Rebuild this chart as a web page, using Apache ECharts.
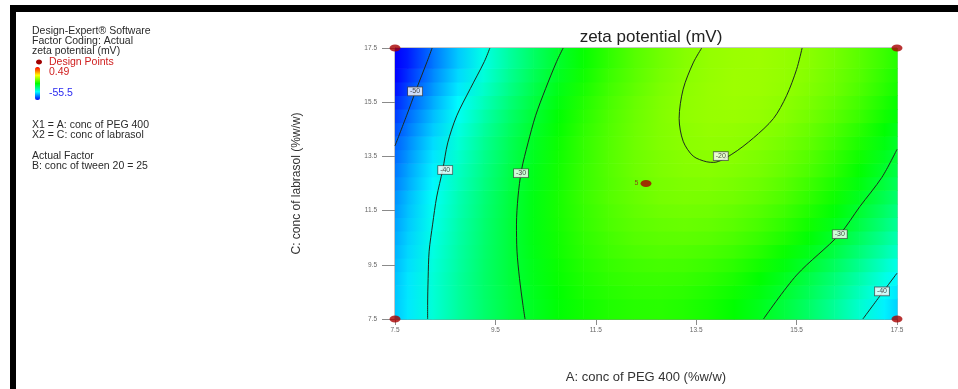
<!DOCTYPE html>
<html>
<head>
<meta charset="utf-8">
<title>zeta potential (mV)</title>
<script src="https://cdn.jsdelivr.net/npm/echarts@6/dist/echarts.min.js"></script>
<style>
  html, body { margin: 0; padding: 0; background: #fff; }
  #chart { width: 958px; height: 389px; }
</style>
</head>
<body>
<div id="chart"></div>
<script>
// factor axis ticks (A: PEG 400 on x, C: labrasol on y)
const xTicks = [7.5, 9.5, 11.5, 13.5, 15.5, 17.5];
const yTicks = [7.5, 9.5, 11.5, 13.5, 15.5, 17.5];

// response surface (columns = A, rows = C)
const xNodes = [7.5, 7.75, 8.25, 8.75, 9.25, 9.75, 10.25, 10.75, 11.25, 11.75, 12.25,
                12.75, 13.25, 13.75, 14.25, 14.75, 15.25, 15.75, 16.25, 16.75, 17.25, 17.5];
const yRows = [8, 8.5, 9, 9.5, 10, 10.5, 11, 11.5, 12, 12.5, 13, 13.5, 14, 14.5, 15, 15.5, 16, 16.5, 17];
const zRows = [
  [-44.6, -42.7, -39.3, -36.2, -33.5, -31.2, -29.3, -27.7, -26.6, -25.8, -25.4, -25.3, -25.7, -26.4, -27.5, -29.0, -30.9, -33.1, -35.8, -38.8, -42.2, -44.0],
  [-44.7, -42.8, -39.3, -36.2, -33.4, -31.1, -29.1, -27.5, -26.2, -25.4, -24.9, -24.8, -25.1, -25.8, -26.8, -28.3, -30.1, -32.2, -34.8, -37.8, -41.1, -42.9],
  [-44.9, -42.9, -39.3, -36.2, -33.3, -30.9, -28.9, -27.2, -25.9, -25.0, -24.5, -24.3, -24.5, -25.1, -26.1, -27.5, -29.2, -31.4, -33.9, -36.8, -40.0, -41.8],
  [-45.3, -43.3, -39.6, -36.4, -33.4, -30.9, -28.8, -27.0, -25.6, -24.6, -24.0, -23.7, -23.8, -24.3, -25.2, -26.5, -28.2, -30.2, -32.6, -35.4, -38.6, -40.3],
  [-45.7, -43.7, -39.9, -36.5, -33.5, -30.9, -28.6, -26.7, -25.2, -24.1, -23.4, -23.0, -23.1, -23.5, -24.2, -25.4, -27.0, -28.9, -31.2, -33.9, -36.9, -38.6],
  [-46.1, -44.1, -40.2, -36.7, -33.6, -30.9, -28.5, -26.6, -25.0, -23.8, -22.9, -22.5, -22.4, -22.7, -23.4, -24.5, -25.9, -27.8, -30.0, -32.6, -35.6, -37.2],
  [-46.6, -44.5, -40.5, -36.9, -33.7, -30.9, -28.5, -26.4, -24.7, -23.4, -22.5, -22.0, -21.8, -22.0, -22.6, -23.6, -25.0, -26.7, -28.8, -31.3, -34.2, -35.8],
  [-47.1, -44.9, -40.8, -37.2, -33.9, -31.0, -28.5, -26.3, -24.6, -23.2, -22.2, -21.5, -21.3, -21.4, -22.0, -22.9, -24.1, -25.8, -27.8, -30.2, -33.0, -34.6],
  [-47.5, -45.3, -41.2, -37.4, -34.1, -31.1, -28.5, -26.3, -24.4, -22.9, -21.9, -21.1, -20.8, -20.9, -21.3, -22.1, -23.3, -24.9, -26.8, -29.2, -31.9, -33.4],
  [-48.3, -46.1, -41.9, -38.0, -34.6, -31.5, -28.8, -26.5, -24.5, -23.0, -21.8, -21.0, -20.6, -20.5, -20.9, -21.6, -22.7, -24.2, -26.0, -28.3, -30.9, -32.4],
  [-48.9, -46.6, -42.3, -38.4, -34.9, -31.7, -28.9, -26.5, -24.5, -22.9, -21.6, -20.7, -20.2, -20.1, -20.4, -21.0, -22.0, -23.4, -25.2, -27.4, -29.9, -31.3],
  [-49.6, -47.3, -42.9, -38.9, -35.3, -32.1, -29.2, -26.7, -24.7, -22.9, -21.6, -20.7, -20.1, -19.9, -20.1, -20.7, -21.6, -22.9, -24.7, -26.7, -29.2, -30.6],
  [-50.2, -47.9, -43.4, -39.4, -35.7, -32.4, -29.4, -26.9, -24.7, -23.0, -21.5, -20.5, -19.9, -19.6, -19.7, -20.2, -21.1, -22.3, -24.0, -26.0, -28.4, -29.7],
  [-51.2, -48.8, -44.3, -40.1, -36.3, -32.9, -29.9, -27.3, -25.0, -23.1, -21.6, -20.5, -19.8, -19.4, -19.5, -19.9, -20.6, -21.8, -23.4, -25.3, -27.6, -28.9],
  [-52.2, -49.7, -45.1, -40.9, -37.0, -33.5, -30.4, -27.6, -25.3, -23.3, -21.7, -20.5, -19.6, -19.2, -19.1, -19.4, -20.1, -21.2, -22.6, -24.4, -26.6, -27.9],
  [-53.3, -50.8, -46.1, -41.7, -37.8, -34.2, -31.0, -28.2, -25.7, -23.6, -21.9, -20.6, -19.7, -19.2, -19.0, -19.2, -19.8, -20.8, -22.1, -23.9, -26.0, -27.2],
  [-54.6, -52.0, -47.2, -42.7, -38.7, -35.0, -31.7, -28.7, -26.2, -24.0, -22.3, -20.8, -19.8, -19.2, -18.9, -19.0, -19.5, -20.4, -21.6, -23.3, -25.3, -26.4],
  [-55.6, -53.0, -48.1, -43.6, -39.5, -35.7, -32.3, -29.3, -26.7, -24.4, -22.6, -21.1, -20.0, -19.3, -18.9, -19.0, -19.4, -20.2, -21.4, -22.9, -24.9, -26.0],
  [-56.7, -54.0, -49.1, -44.5, -40.2, -36.4, -33.0, -29.9, -27.2, -24.9, -22.9, -21.4, -20.2, -19.4, -19.0, -18.9, -19.3, -20.0, -21.1, -22.6, -24.4, -25.5]
];
const zMin = -55.5;
const zMax = 0.49;

// contour lines: [A, C]
const contour50 = [[7.5, 13.89], [7.73, 15], [7.93, 16], [8.14, 17], [8.24, 17.5]];
const contour40L = [[9.39, 17.5], [9.28, 17], [9.0, 16], [8.73, 15], [8.55, 14], [8.45, 13], [8.33, 12],
                    [8.25, 11], [8.18, 10], [8.16, 9], [8.15, 8], [8.15, 7.5]];
const contour30L = [[10.85, 17.5], [10.72, 17], [10.5, 16], [10.3, 15], [10.15, 14], [10.02, 13], [9.95, 12],
                    [9.92, 11], [9.93, 10], [9.98, 9], [10.05, 8], [10.09, 7.5]];
const contour20 = [[13.61, 17.5], [13.44, 16.95], [13.24, 15.98], [13.16, 14.9], [13.24, 14.06], [13.44, 13.51],
                   [13.71, 13.3], [13.85, 13.28], [14.21, 13.58], [14.64, 14.18], [15.04, 14.9], [15.3, 15.74],
                   [15.5, 16.71], [15.61, 17.5]];
const contour30R = [[14.84, 7.5], [15.5, 9.12], [16.36, 10.63], [16.76, 11.65], [17.2, 12.73], [17.5, 13.76]];
const contour40R = [[16.82, 7.5], [17.2, 8.45], [17.5, 9.19]];
const contourLabels = [[7.9, 15.9, '-50'], [8.5, 13.0, '-40'], [10.01, 12.88, '-30'], [13.99, 13.51, '-20'],
                       [16.36, 10.63, '-30'], [17.2, 8.52, '-40']];

// design points
const designPoints = [[7.5, 7.5], [7.5, 17.5], [17.5, 7.5], [17.5, 17.5], [12.5, 12.5]];
const centerReplicates = 5;

const rowH = 0.5;
const nCols = xNodes.length;
const nRows = yRows.length;

const chart = echarts.init(document.getElementById('chart'));

const surfaceData = [];
yRows.forEach((y, r) => {
  xNodes.forEach((x, c) => surfaceData.push([x, y, zRows[r][c]]));
});

// each strip runs from one node to the next in its row, shaded between their colours
const renderSurface = (params, api) => {
  const i = params.dataIndexInside;
  if (i % nCols === nCols - 1) return null;
  const row = Math.floor(i / nCols);
  const x = api.value(0);
  const y = api.value(1);
  const yTop = row === nRows - 1 ? yTicks[yTicks.length - 1] : y + rowH / 2;
  const yBottom = row === 0 ? yTicks[0] : y - rowH / 2;
  const top = api.coord([x, yTop])[1];
  const bottom = api.coord([x, yBottom])[1];
  const px = api.coord([x, y])[0];
  const nx = api.coord([api.value(0, i + 1), y])[0];
  return {
    type: 'rect',
    shape: { x: px, y: top, width: nx - px + 0.6, height: bottom - top + 0.6 },
    style: {
      fill: {
        type: 'linear', x: 0, y: 0, x2: 1, y2: 0,
        colorStops: [
          { offset: 0, color: api.visual('color') },
          { offset: 1, color: api.visual('color', i + 1) }
        ]
      }
    }
  };
};

const contourLine = (data) => ({
  type: 'line',
  data: data,
  smooth: 0.3,
  showSymbol: false,
  silent: true,
  clip: true,
  z: 3,
  lineStyle: { color: '#1e2a1e', width: 1 }
});

const txt = (text, x, y, color) => ({
  type: 'text',
  style: {
    text: text, x: x, y: y, verticalAlign: 'middle',
    fill: color || '#2a2a2a',
    font: '10.5px "Liberation Sans", Arial, sans-serif'
  }
});

const option = {
  animation: false,
  backgroundColor: '#fff',
  title: {
    text: 'zeta potential (mV)',
    left: 646,
    top: 24,
    textAlign: 'center',
    textStyle: { fontSize: 17, fontWeight: 'normal', color: '#222', fontFamily: 'Liberation Sans' }
  },
  grid: { left: 395, top: 48, width: 502, height: 277, show: true, borderColor: '#8a8a8a', borderWidth: 1, backgroundColor: 'transparent' },
  xAxis: {
    type: 'value',
    min: xTicks[0],
    max: xTicks[xTicks.length - 1],
    interval: 2,
    name: 'A: conc of PEG 400 (%w/w)',
    nameLocation: 'middle',
    nameGap: 52,
    nameTextStyle: { fontSize: 13, color: '#333', fontFamily: 'Liberation Sans' },
    axisLine: { show: true, lineStyle: { color: '#8a8a8a' } },
    axisTick: { show: true, length: 6, lineStyle: { color: '#8a8a8a' } },
    axisLabel: { fontSize: 6.5, color: '#666', margin: 8, formatter: v => v.toFixed(1) },
    splitLine: { show: false }
  },
  yAxis: {
    type: 'value',
    min: yTicks[0],
    max: yTicks[yTicks.length - 1],
    interval: 2,
    name: 'C: conc of labrasol (%w/w)',
    nameLocation: 'middle',
    nameGap: 92,
    nameRotate: 90,
    nameTextStyle: { fontSize: 12, color: '#333', fontFamily: 'Liberation Sans' },
    axisLine: { show: true, lineStyle: { color: '#8a8a8a' } },
    axisTick: { show: true, length: 13, lineStyle: { color: '#8a8a8a' } },
    axisLabel: { fontSize: 6.5, color: '#666', margin: 18, formatter: v => v.toFixed(1) },
    splitLine: { show: false }
  },
  visualMap: {
    type: 'continuous',
    min: zMin,
    max: zMax,
    dimension: 2,
    seriesIndex: 0,
    calculable: false,
    left: 35,
    top: 67,
    padding: 0,
    itemWidth: 5,
    itemHeight: 33,
    text: null,
    inRange: { color: ['#0000ff', '#00ffff', '#00ff00', '#ffff00', '#ff0000'] }
  },
  graphic: [
    { type: 'rect', shape: { x: 10, y: 5, width: 948, height: 7 }, style: { fill: '#000' } },
    { type: 'rect', shape: { x: 10, y: 5, width: 6, height: 384 }, style: { fill: '#000' } },
    txt('Design-Expert\u00ae Software', 32, 31),
    txt('Factor Coding: Actual', 32, 41.5),
    txt('zeta potential (mV)', 32, 51.5),
    { type: 'ellipse', shape: { cx: 39, cy: 62, rx: 3, ry: 2.5 }, style: { fill: '#a00000' } },
    txt('Design Points', 49, 62, '#d02020'),
    txt('0.49', 49, 72, '#d02020'),
    txt('-55.5', 49, 93.5, '#2a2af0'),
    txt('X1 = A: conc of PEG 400', 32, 125.5),
    txt('X2 = C: conc of labrasol', 32, 135.5),
    txt('Actual Factor', 32, 156),
    txt('B: conc of tween 20 = 25', 32, 166)
  ],
  series: [
    {
      type: 'custom',
      name: 'zeta potential',
      data: surfaceData,
      encode: { x: 0, y: 1 },
      silent: true,
      z: 1,
      renderItem: renderSurface
    },
    contourLine(contour50),
    contourLine(contour40L),
    contourLine(contour30L),
    contourLine(contour20),
    contourLine(contour30R),
    contourLine(contour40R),
    {
      type: 'scatter',
      data: contourLabels,
      symbolSize: 0,
      silent: true,
      z: 4,
      label: {
        show: true,
        position: 'inside',
        formatter: p => p.data[2],
        fontSize: 7,
        color: '#222',
        backgroundColor: '#fff',
        borderColor: '#444',
        borderWidth: 0.8,
        padding: [1, 2, 0, 2],
        fontFamily: 'Liberation Sans'
      }
    },
    {
      type: 'scatter',
      data: designPoints,
      symbol: 'circle',
      symbolSize: [11, 7],
      clip: false,
      silent: true,
      z: 5,
      itemStyle: { color: '#a80000' },
      label: {
        show: true,
        position: 'left',
        distance: 2,
        fontSize: 7,
        color: '#8a1a1a',
        formatter: p => (p.data[0] === 12.5 && p.data[1] === 12.5 ? String(centerReplicates) : '')
      }
    }
  ]
};

chart.setOption(option);
</script>
</body>
</html>
